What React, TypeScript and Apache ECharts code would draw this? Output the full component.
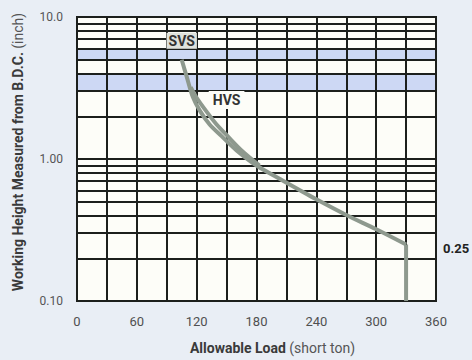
import React, { useEffect, useRef } from "react";
import * as echarts from "echarts";

const svsLoad = [105, 110, 116, 123, 133, 145, 160, 180, 204, 240, 271, 300, 330];
const svsHeight = [5.0, 3.8, 2.75, 2.2, 1.75, 1.45, 1.15, 0.9, 0.72, 0.52, 0.4, 0.32, 0.25];
const hvsLoad = [114, 120, 129, 140, 151, 165, 183];
const hvsHeight = [3.2, 2.7, 2.2, 1.75, 1.45, 1.15, 0.9];
const dropLoad = [330, 330];
const dropHeight = [0.25, 0.1];
const minorHeights = [0.2, 0.3, 0.4, 0.5, 0.6, 0.7, 0.8, 0.9, 2, 3, 4, 5, 6, 7, 8, 9];
const bands = [[3, 4], [5, 6]];
const xLabelStep = 60;
const svsLabelAt = [105, 6.8];
const hvsLabelAt = [150, 2.6];
const limitLabel = "0.25";

const FONT = "'Liberation Sans Narrow', 'Roboto', 'Liberation Sans', sans-serif";
const LINE = "#8e998e";
const GRIDC = "#1c1f1c";

export default function App() {
  const ref = useRef<HTMLDivElement>(null);
  useEffect(() => {
    if (!ref.current) return;
    const chart = echarts.init(ref.current, null, { renderer: "svg" });
    const zip = (a: number[], b: number[]) => a.map((v, i) => [v, b[i]]);
    chart.setOption({
      animation: false,
      backgroundColor: "#e9eef5",
      grid: {
        left: 77, right: 36, top: 17, bottom: 48,
        show: true, backgroundColor: "#fdfdf8", borderColor: GRIDC, borderWidth: 2,
      },
      xAxis: {
        type: "value", min: 0, max: 360, interval: 30, z: 2,
        name: "{b|Allowable Load} {n|(short ton)}",
        nameLocation: "middle", nameGap: 40,
        nameTextStyle: {
          padding: [0, 0, 0, 32],
          rich: {
            b: { fontFamily: FONT, fontWeight: "bold", fontSize: 14, color: "#3a3a3a" },
            n: { fontFamily: FONT, fontSize: 14, color: "#555" },
          },
        },
        axisLine: { show: true, lineStyle: { color: GRIDC, width: 2 } },
        axisTick: { show: false },
        axisLabel: {
          margin: 14, fontFamily: FONT, fontSize: 13, color: "#505050",
          formatter: (v: number) => (v % xLabelStep === 0 ? String(v) : ""),
        },
        splitLine: { show: true, lineStyle: { color: GRIDC, width: 2 } },
      },
      yAxis: {
        type: "log", logBase: 10, min: 0.1, max: 10, z: 2,
        name: "{b|Working Height Measured from B.D.C.} {n|(inch)}",
        nameLocation: "middle", nameGap: 52, nameRotate: 90,
        nameTextStyle: {
          padding: [0, 0, 0, 14],
          rich: {
            b: { fontFamily: FONT, fontWeight: "bold", fontSize: 14, color: "#3a3a3a" },
            n: { fontFamily: FONT, fontSize: 14, color: "#555" },
          },
        },
        axisLine: { show: true, lineStyle: { color: GRIDC, width: 2 } },
        axisTick: { show: false },
        axisLabel: {
          margin: 14, fontFamily: FONT, fontSize: 12, color: "#555",
          formatter: (v: number) => (v >= 10 ? Number(v).toFixed(1) : Number(v).toFixed(2)),
        },
        splitLine: { show: true, lineStyle: { color: GRIDC, width: 2 } },
      },
      series: [
        {
          type: "line", data: [], z: 1, silent: true,
          markArea: {
            silent: true,
            itemStyle: { color: "#cdd8f4" },
            data: bands.map(([a, b]) => [{ yAxis: a }, { yAxis: b }]),
          },
        },
        {
          type: "line", data: [], z: 2, silent: true,
          markLine: {
            silent: true, symbol: "none", label: { show: false },
            lineStyle: { color: GRIDC, width: 2, type: "solid" },
            data: minorHeights.map((h) => ({ yAxis: h })),
          },
        },
        {
          name: "HVS", type: "line", z: 5, data: zip(hvsLoad, hvsHeight),
          smooth: 0.3, showSymbol: false,
          lineStyle: { color: LINE, width: 4 },
          markPoint: {
            symbol: "rect", symbolSize: 0,
            data: [{ coord: hvsLabelAt }],
            label: {
              show: true, formatter: "HVS", position: "inside",
              fontFamily: FONT, fontWeight: "bold", fontSize: 14, color: "#333",
              backgroundColor: "#fdfdf8", padding: [3, 4, 1, 4],
            },
          },
        },
        {
          name: "SVS", type: "line", z: 6, data: zip(svsLoad, svsHeight),
          smooth: 0.3, showSymbol: false,
          lineStyle: { color: LINE, width: 4 },
          markPoint: {
            symbol: "rect", symbolSize: 0,
            data: [{ coord: svsLabelAt }],
            label: {
              show: true, formatter: "SVS", position: "inside",
              fontFamily: FONT, fontWeight: "bold", fontSize: 14, color: "#333",
              backgroundColor: "#dfe2dc", padding: [2, 2, 0, 2],
            },
          },
        },
        {
          name: "limit", type: "line", z: 6, data: zip(dropLoad, dropHeight),
          showSymbol: false,
          lineStyle: { color: LINE, width: 4 },
          markPoint: {
            symbol: "rect", symbolSize: 0,
            data: [{ coord: [dropLoad[0], dropHeight[0]] }],
            label: {
              show: true, formatter: limitLabel, position: "right", distance: 37,
              offset: [0, 4],
              fontFamily: FONT, fontWeight: "bold", fontSize: 13, color: "#222",
            },
          },
        },
      ],
    });
    return () => chart.dispose();
  }, []);
  return (
    <div
      ref={ref}
      style={{ position: "fixed", left: 0, top: 0, width: 472, height: 360, background: "#e9eef5" }}
    />
  );
}
